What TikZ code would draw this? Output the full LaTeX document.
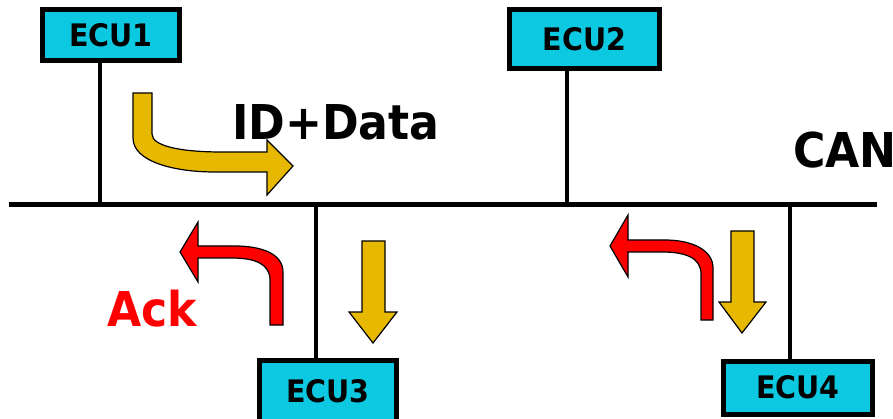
\documentclass[tikz,border=0pt]{standalone}
\usepackage{fontspec}
\setmainfont{DejaVu Sans}
\newfontfamily\lblfont[FakeStretch=0.92]{DejaVu Sans}
\definecolor{ecucyan}{HTML}{0CC8E0}
\definecolor{arrowgold}{HTML}{E6B800}
\definecolor{ackred}{HTML}{FF0000}
\tikzset{
  ecu/.style={draw=black, line width=5pt, fill=ecucyan, inner sep=0pt,
    font=\lblfont\bfseries\fontsize{31}{31}\selectfont},
  wire/.style={line width=4pt, black},
  bus/.style={line width=5pt, black},
  goldarrow/.style={fill=arrowgold, draw=black, line width=1.2pt, line join=miter},
  redarrow/.style={fill=ackred, draw=black, line width=1.2pt, line join=miter},
  biglabel/.style={inner sep=0pt, anchor=base west,
    font=\lblfont\bfseries\fontsize{48}{48}\selectfont}
}
\begin{document}
\begin{tikzpicture}[x=1pt, y=-1pt]
\useasboundingbox (0,0) rectangle (893,419);

% control units
\node[ecu, minimum width=137pt, minimum height=51pt] (ECU1) at (111,35) {ECU1};
\node[ecu, minimum width=150pt, minimum height=59pt] (ECU2) at (584.5,39) {ECU2};
\node[ecu, minimum width=137pt, minimum height=61pt] (ECU3) at (328,391) {ECU3};
\node[ecu, minimum width=149pt, minimum height=53pt] (ECU4) at (798,387.5) {ECU4};

% bus and taps
\coordinate (busL) at (9,205);
\coordinate (busR) at (877,205);
\coordinate (tap1) at (100,205);
\coordinate (tap2) at (567,205);
\coordinate (tap3) at (316,205);
\coordinate (tap4) at (790,205);
\draw[bus] (busL) -- (busR);
\draw[wire] (tap1) -- (tap1 |- ECU1.south);
\draw[wire] (tap2) -- (tap2 |- ECU2.south);
\draw[wire] (tap3) -- (tap3 |- ECU3.north);
\draw[wire] (tap4) -- (tap4 |- ECU4.north);

% labels
\node[biglabel] (lblData) at (232,140) {ID+Data};
\node[biglabel] (lblCAN) at (793,168) {CAN};
\node[biglabel, text=ackred] (lblAck) at (107,326) {Ack};

% frame sent by ECU1
\draw[goldarrow] (133,93) -- (133,138)
  .. controls (133,162) and (175,172) .. (215,172)
  -- (267,172) -- (267,195) -- (293,166) -- (267,140) -- (267,152)
  -- (222,152) .. controls (180,152) and (152,146) .. (152,134)
  -- (152,93) -- cycle;

% frame received by ECU3
\draw[goldarrow] (362,241) -- (385,241) -- (385,312) -- (397,312)
  -- (373,343) -- (349,312) -- (362,312) -- cycle;

% frame received by ECU4
\draw[goldarrow] (731,231) -- (754,231) -- (754,302) -- (766,302)
  -- (742,333) -- (719,302) -- (731,302) -- cycle;

% acknowledge from ECU3
\draw[redarrow] (270,325) -- (283,325) -- (283,272)
  .. controls (283,254) and (262,246) .. (235,246)
  -- (198,246) -- (198,222) -- (180,252) -- (198,282) -- (198,258)
  -- (232,258) .. controls (255,258) and (270,264) .. (270,280) -- cycle;

% acknowledge from ECU4
\draw[redarrow] (701,320) -- (713,320) -- (713,268)
  .. controls (713,250) and (692,240) .. (665,240)
  -- (628,240) -- (628,215) -- (610,246) -- (628,277) -- (628,252)
  -- (662,252) .. controls (686,252) and (701,258) .. (701,274) -- cycle;
\end{tikzpicture}
\end{document}
